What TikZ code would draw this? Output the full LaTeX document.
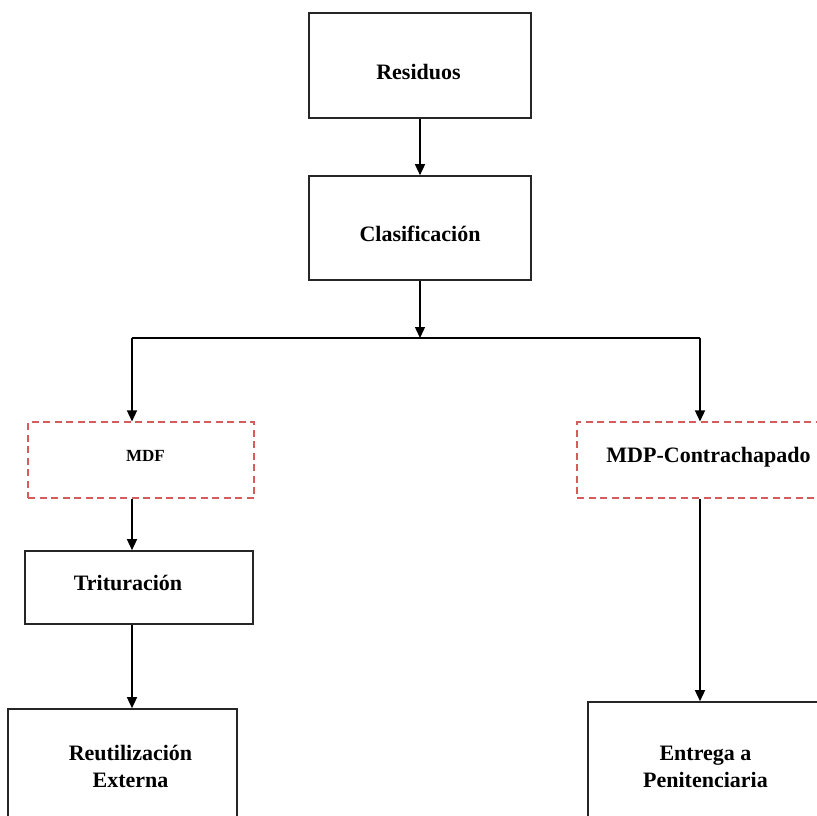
\documentclass[tikz,border=0pt]{standalone}
\usepackage{fontspec}
\setmainfont{Liberation Serif}
\usetikzlibrary{arrows.meta}
\definecolor{dashred}{RGB}{214,92,92}
\tikzstyle{line} = [draw, line width=1.4pt, -{Triangle[width=10pt,length=11pt]}]
\tikzstyle{box} = [draw=black!85, line width=1.6pt, rectangle, inner sep=0pt]
\tikzstyle{dashbox} = [draw=dashred, line width=1.1pt, dash pattern=on 7pt off 4.5pt, rectangle, inner sep=0pt]
\tikzstyle{lbl} = [font=\fontsize{22}{27.3}\selectfont\bfseries, anchor=base, inner sep=0pt, align=center]

\begin{document}
\begin{tikzpicture}[x=1pt, y=-1pt]
\useasboundingbox (0,0) rectangle (817,816);
\clip (0,0) rectangle (817,816);

%Boxes
\node[box, minimum width=222pt, minimum height=105pt] (res) at (420,65.5) {};
\node[box, minimum width=222pt, minimum height=104pt] (clas) at (420,228) {};
\node[dashbox, minimum width=226pt, minimum height=76pt] (mdf) at (141,460) {};
\node[dashbox, minimum width=263pt, minimum height=76pt] (mdp) at (708.5,460) {};
\node[box, minimum width=228pt, minimum height=73pt] (trit) at (139,587.5) {};
\node[box, minimum width=229pt, minimum height=140pt] (reut) at (122.5,779) {};
\node[box, minimum width=242pt, minimum height=140pt] (ent) at (709,772) {};

%Labels
\node[lbl] (resText) at (418.5,80) {Residuos};
\node[lbl] (clasText) at (420,241.7) {Clasificación};
\node[lbl, font=\fontsize{17}{20}\selectfont\bfseries] (mdfText) at (145.5,461.7) {MDF};
\node[lbl] (mdpText) at (708.5,462.7) {MDP-Contrachapado};
\node[lbl] (tritText) at (128,590.7) {Trituración};
\node[lbl] (reutText) at (130.5,787.3) {Reutilización\\Externa};
\node[lbl] (entText) at (705.5,787.3) {Entrega a\\Penitenciaria};

%Branch points
\coordinate (split) at (420,338);
\coordinate (splitL) at (132,338);
\coordinate (splitR) at (700,338);

%Arrows
\draw [line] (res.south) -- (clas.north);
\draw [line] (clas.south) -- (split);
\draw [line width=1.4pt] (splitL) -- (splitR);
\draw [line] (splitL) -- (mdf.north -| splitL);
\draw [line] (splitR) -- (mdp.north -| splitR);
\draw [line] (mdf.south -| splitL) -- (trit.north -| splitL);
\draw [line] (trit.south -| splitL) -- (reut.north -| splitL);
\draw [line] (mdp.south -| splitR) -- (ent.north -| splitR);

\end{tikzpicture}
\end{document}
